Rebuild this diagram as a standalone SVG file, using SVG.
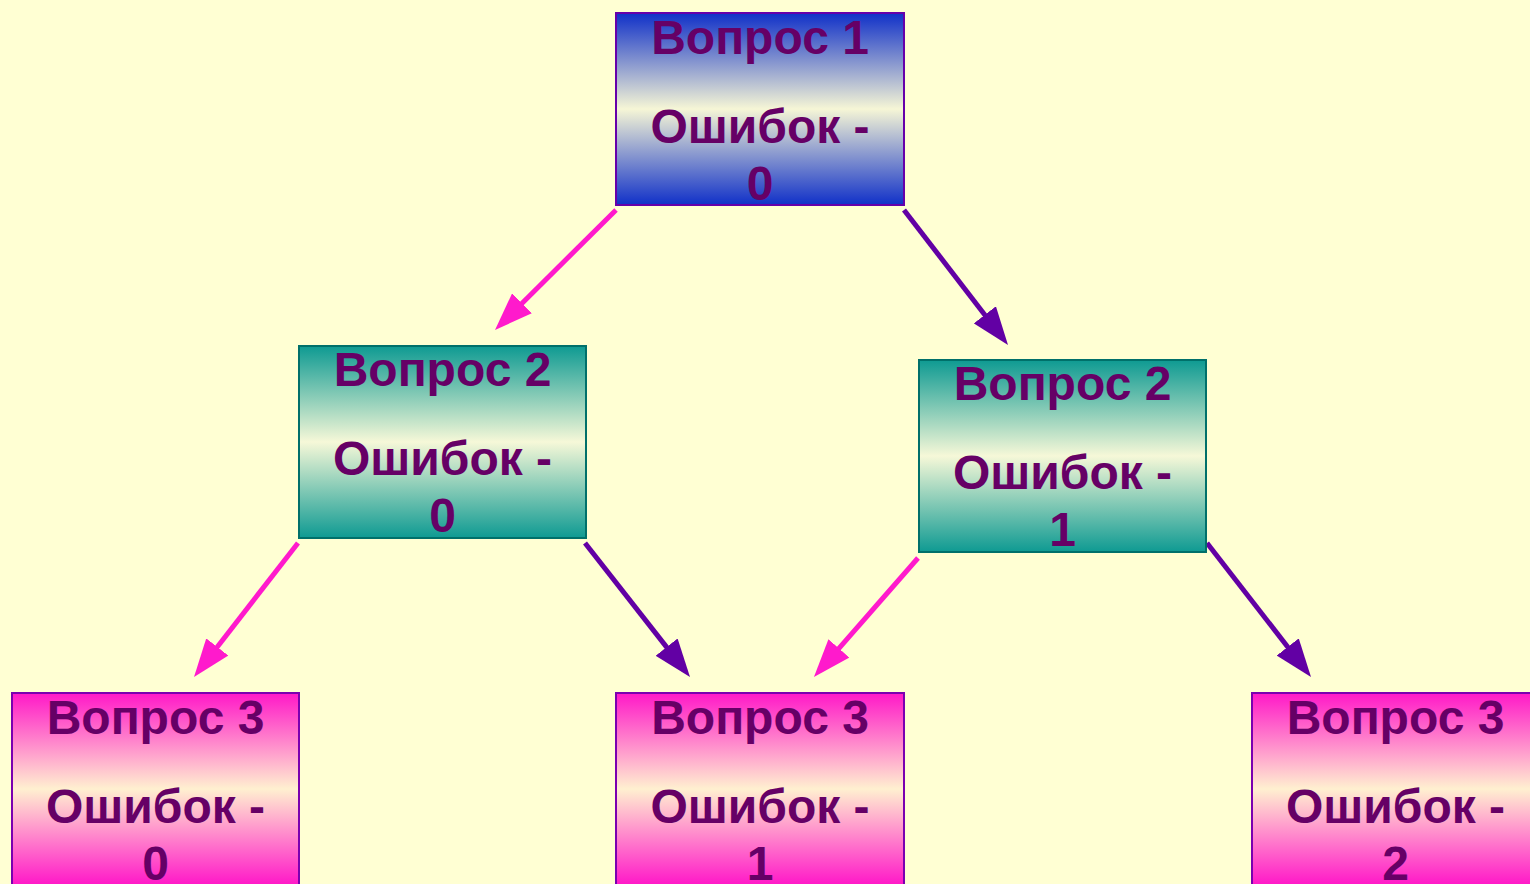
<svg xmlns="http://www.w3.org/2000/svg" width="1530" height="884" viewBox="0 0 1530 884">
<defs>
<linearGradient id="gBlue" x1="0" y1="0" x2="0" y2="1">
<stop offset="0" stop-color="#1030c8"/>
<stop offset="0.5" stop-color="#f6f6d6"/>
<stop offset="1" stop-color="#1030c8"/>
</linearGradient>
<linearGradient id="gTeal" x1="0" y1="0" x2="0" y2="1">
<stop offset="0" stop-color="#0e9a92"/>
<stop offset="0.5" stop-color="#f6f8d8"/>
<stop offset="1" stop-color="#0e9a92"/>
</linearGradient>
<linearGradient id="gPink" x1="0" y1="0" x2="0" y2="1">
<stop offset="0" stop-color="#ff18c8"/>
<stop offset="0.5" stop-color="#fff0d0"/>
<stop offset="1" stop-color="#ff18c8"/>
</linearGradient>
<marker id="hPink" viewBox="0 0 38 28" markerWidth="38" markerHeight="28" markerUnits="userSpaceOnUse" refX="8" refY="14" orient="auto">
<polygon points="0,0 38,14 0,28" fill="#ff1acc"/>
</marker>
<marker id="hPurple" viewBox="0 0 38 28" markerWidth="38" markerHeight="28" markerUnits="userSpaceOnUse" refX="8" refY="14" orient="auto">
<polygon points="0,0 38,14 0,28" fill="#6200a4"/>
</marker>
<style>
.bg{fill:#ffffd3}
.blue{fill:url(#gBlue);stroke:#6600aa;stroke-width:2}
.teal{fill:url(#gTeal);stroke:#00706a;stroke-width:2}
.pink{fill:url(#gPink);stroke:#7a00b0;stroke-width:2}
.t{font-family:"Liberation Sans",Arial,sans-serif;font-weight:bold;font-size:48px;fill:#660066;text-anchor:middle}
.ap{stroke:#ff1acc;stroke-width:5;fill:none;marker-end:url(#hPink)}
.au{stroke:#6200a4;stroke-width:5;fill:none;marker-end:url(#hPurple)}
</style>
</defs>
<rect class="bg" x="0" y="0" width="1530" height="884"/>
<g id="connectors">
<line class="ap" x1="616" y1="210" x2="516.3" y2="308.9"/>
<line class="au" x1="904" y1="210" x2="989.7" y2="321.2"/>
<line class="ap" x1="298" y1="543" x2="212.4" y2="653.3"/>
<line class="au" x1="585" y1="543" x2="671.5" y2="653.4"/>
<line class="ap" x1="918" y1="558" x2="833.7" y2="654.4"/>
<line class="au" x1="1207" y1="543" x2="1292.6" y2="653.3"/>
</g>
<g id="q1">
<rect class="blue" x="616" y="13" width="288" height="192"/>
<text class="t" x="760" y="54">Вопрос 1</text>
<text class="t" x="760" y="143">Ошибок -</text>
<text class="t" x="760" y="200">0</text>
</g>
<g id="q2a">
<rect class="teal" x="299" y="346" width="287" height="192"/>
<text class="t" x="442.5" y="386">Вопрос 2</text>
<text class="t" x="442.5" y="475">Ошибок -</text>
<text class="t" x="442.5" y="532">0</text>
</g>
<g id="q2b">
<rect class="teal" x="919" y="360" width="287" height="192"/>
<text class="t" x="1062.5" y="400">Вопрос 2</text>
<text class="t" x="1062.5" y="489">Ошибок -</text>
<text class="t" x="1062.5" y="546">1</text>
</g>
<g id="q3a">
<rect class="pink" x="12" y="693" width="287" height="192"/>
<text class="t" x="155.5" y="734">Вопрос 3</text>
<text class="t" x="155.5" y="823">Ошибок -</text>
<text class="t" x="155.5" y="880">0</text>
</g>
<g id="q3b">
<rect class="pink" x="616" y="693" width="288" height="192"/>
<text class="t" x="760" y="734">Вопрос 3</text>
<text class="t" x="760" y="823">Ошибок -</text>
<text class="t" x="760" y="880">1</text>
</g>
<g id="q3c">
<rect class="pink" x="1252" y="693" width="287" height="192"/>
<text class="t" x="1395.5" y="734">Вопрос 3</text>
<text class="t" x="1395.5" y="823">Ошибок -</text>
<text class="t" x="1395.5" y="880">2</text>
</g>
</svg>
